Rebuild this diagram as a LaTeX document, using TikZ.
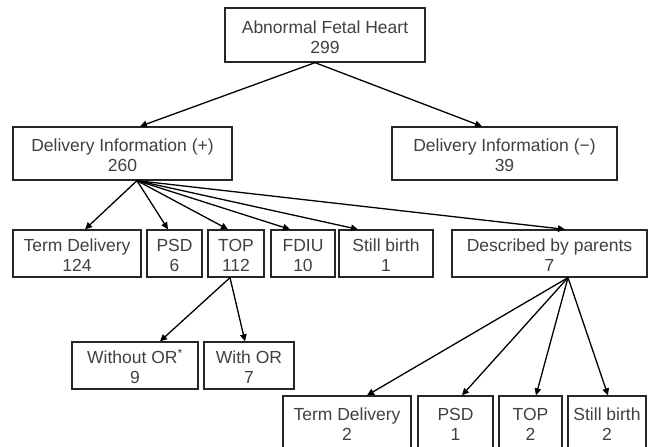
\documentclass[tikz,border=0pt]{standalone}
\usepackage{fontspec}
\setmainfont{Liberation Sans}
\usetikzlibrary{arrows.meta,calc}
\definecolor{txt}{HTML}{404040}
\tikzset{
  box/.style={draw=black!85, line width=1.3pt, text=txt, align=center, inner sep=0pt,
    font=\fontsize{17.5}{20}\selectfont},
  arr/.style={line width=1.3pt, -{Triangle[length=7pt,width=6.5pt]}}
}
\newcommand{\bx}[6]{\node[box, minimum width=#3pt, minimum height=#4pt] (#1) at (#2) {\rule{0pt}{16.3pt}#5\\#6};}
\begin{document}
\begin{tikzpicture}[x=1pt,y=-1pt]
\useasboundingbox (0,0) rectangle (649,447);
\bx{top}{325,35}{200}{54}{Abnormal Fetal Heart}{299}
\bx{dp}{122.5,153.5}{219}{53}{Delivery Information (+)}{260}
\bx{dm}{504.5,153.5}{225}{53}{Delivery Information (−)}{39}
\bx{td}{77,253.5}{128}{47}{Term Delivery}{124}
\bx{psd}{174.5,253.5}{55}{47}{PSD}{6}
\bx{topa}{236,253.5}{56}{47}{TOP}{112}
\bx{fdiu}{303,253.5}{64}{47}{FDIU}{10}
\bx{sb}{386,253.5}{94}{47}{Still birth}{1}
\bx{dbp}{549.5,253.5}{195}{47}{Described by parents}{7}
\bx{wo}{135,365.5}{126}{47}{Without OR\textsuperscript{*}}{9}
\bx{wi}{249,365.5}{90}{47}{With OR}{7}
\bx{tdb}{347,422.5}{128}{53}{Term Delivery}{2}
\bx{psdb}{455.5,422.5}{75}{53}{PSD}{1}
\bx{topb}{530.5,422.5}{63}{53}{TOP}{2}
\bx{sbb}{607,422.5}{78}{53}{Still birth}{2}
\coordinate (s1) at ([xshift=-10pt]top.south);
\coordinate (s2) at ([xshift=14.5pt]dp.south);
\coordinate (s3) at ([xshift=-6pt]topa.south);
\coordinate (s4) at ([xshift=18.5pt]dbp.south);
\draw[arr] (s1) -- ([xshift=17.5pt]dp.north);
\draw[arr] (s1) -- ([xshift=-22.5pt]dm.north);
\draw[arr] (s2) -- ([xshift=8pt]td.north);
\draw[arr] (s2) -- ([xshift=-6.5pt]psd.north);
\draw[arr] (s2) -- ([xshift=-8pt]topa.north);
\draw[arr] (s2) -- ([xshift=-13pt]fdiu.north);
\draw[arr] (s2) -- ([xshift=-28pt]sb.north);
\draw[arr] (s2) -- ([xshift=15.5pt]dbp.north);
\draw[arr] (s3) -- ([xshift=25pt]wo.north);
\draw[arr] (s3) -- ([xshift=-4pt]wi.north);
\draw[arr] (s4) -- ([xshift=20pt]tdb.north);
\draw[arr] (s4) -- ([xshift=6.5pt]psdb.north);
\draw[arr] (s4) -- ([xshift=5.5pt]topb.north);
\draw[arr] (s4) -- ([xshift=1pt]sbb.north);
\end{tikzpicture}
\end{document}
